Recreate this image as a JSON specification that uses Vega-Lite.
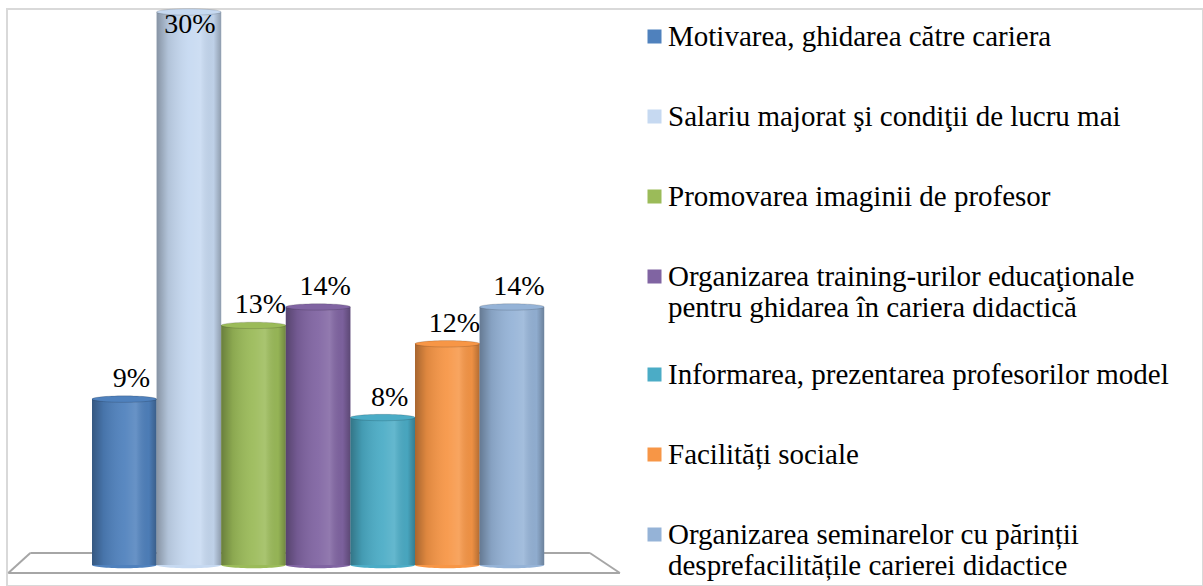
{
  "$schema": "https://vega.github.io/schema/vega-lite/v6.json",
  "width": 1196,
  "height": 577,
  "autosize": {"type": "none"},
  "padding": {"left": 7, "top": 9, "right": 0, "bottom": 0},
  "background": "white",
  "config": {"view": {"stroke": "#d9d9d9", "strokeWidth": 2}},
  "data": {"values": [
    {"cat": "Motivarea, ghidarea către cariera", "pct": 0.09},
    {"cat": "Salariu majorat şi condiţii de lucru mai", "pct": 0.30},
    {"cat": "Promovarea imaginii de profesor", "pct": 0.13},
    {"cat": "Organizarea training-urilor educaţionale pentru ghidarea în cariera didactică", "pct": 0.14},
    {"cat": "Informarea, prezentarea profesorilor model", "pct": 0.08},
    {"cat": "Facilități sociale", "pct": 0.12},
    {"cat": "Organizarea seminarelor cu părinții desprefacilitățile carierei didactice", "pct": 0.14}
  ]},
  "layer": [
    {
      "data": {"values": [{}]},
      "mark": {"type": "rule", "color": "#a6a6a6", "strokeWidth": 2, "xOffset": -94, "x2Offset": 78},
      "encoding": {
        "x": {"datum": "Motivarea, ghidarea către cariera", "type": "nominal", "axis": null,
              "scale": {"domain": ["Motivarea, ghidarea către cariera", "Salariu majorat şi condiţii de lucru mai", "Promovarea imaginii de profesor", "Organizarea training-urilor educaţionale pentru ghidarea în cariera didactică", "Informarea, prezentarea profesorilor model", "Facilități sociale", "Organizarea seminarelor cu părinții desprefacilitățile carierei didactice"], "paddingInner": 0, "paddingOuter": 0, "range": [85, 537.2]}},
        "x2": {"datum": "Organizarea seminarelor cu părinții desprefacilitățile carierei didactice"},
        "y": {"datum": 0.00651, "type": "quantitative", "axis": null, "scale": {"domain": [-0.01139, 0.30163], "nice": false, "zero": false}}
      }
    },
    {
      "data": {"values": [{}]},
      "mark": {"type": "rule", "color": "#a6a6a6", "strokeWidth": 2, "xOffset": -116, "x2Offset": 108},
      "encoding": {
        "x": {"datum": "Motivarea, ghidarea către cariera", "type": "nominal", "axis": null},
        "x2": {"datum": "Organizarea seminarelor cu părinții desprefacilitățile carierei didactice"},
        "y": {"datum": -0.00434, "type": "quantitative", "axis": null}
      }
    },
    {
      "data": {"values": [{}]},
      "mark": {"type": "rule", "color": "#a6a6a6", "strokeWidth": 2, "xOffset": -94, "x2Offset": -116},
      "encoding": {
        "x": {"datum": "Motivarea, ghidarea către cariera", "type": "nominal", "axis": null},
        "x2": {"datum": "Motivarea, ghidarea către cariera"},
        "y": {"datum": 0.00651, "type": "quantitative", "axis": null},
        "y2": {"datum": -0.00434}
      }
    },
    {
      "data": {"values": [{}]},
      "mark": {"type": "rule", "color": "#a6a6a6", "strokeWidth": 2, "xOffset": 78, "x2Offset": 108},
      "encoding": {
        "x": {"datum": "Organizarea seminarelor cu părinții desprefacilitățile carierei didactice", "type": "nominal", "axis": null},
        "x2": {"datum": "Organizarea seminarelor cu părinții desprefacilitățile carierei didactice"},
        "y": {"datum": 0.00651, "type": "quantitative", "axis": null},
        "y2": {"datum": -0.00434}
      }
    },
    {
      "mark": {"type": "point", "filled": true, "opacity": 1, "size": 4173, "shape": "M -1 0 A 1 0.1 0 1 1 1 0 A 1 0.1 0 1 1 -1 0 Z"},
      "encoding": {
        "x": {"field": "cat", "type": "nominal", "axis": null},
        "y": {"datum": 0, "type": "quantitative", "axis": null},
        "fill": {"field": "cat", "type": "nominal", "legend": null,
                 "scale": {"domain": ["Organizarea seminarelor cu părinții desprefacilitățile carierei didactice", "Facilități sociale", "Informarea, prezentarea profesorilor model", "Organizarea training-urilor educaţionale pentru ghidarea în cariera didactică", "Promovarea imaginii de profesor", "Salariu majorat şi condiţii de lucru mai", "Motivarea, ghidarea către cariera"],
                           "range": ["#95B3D7", "#F79646", "#4BACC6", "#8064A2", "#9BBB59", "#C6D9F1", "#4F81BD"]}}
      }
    },
    {
      "mark": {"type": "bar", "strokeWidth": 0},
      "encoding": {
        "x": {"field": "cat", "type": "nominal", "axis": null},
        "y": {"field": "pct", "type": "quantitative", "axis": null},
        "y2": {"datum": 0},
        "color": {"field": "cat", "type": "nominal",
                  "scale": {"domain": ["Motivarea, ghidarea către cariera", "Salariu majorat şi condiţii de lucru mai", "Promovarea imaginii de profesor", "Organizarea training-urilor educaţionale pentru ghidarea în cariera didactică", "Informarea, prezentarea profesorilor model", "Facilități sociale", "Organizarea seminarelor cu părinții desprefacilitățile carierei didactice"],
                            "range": ["#4F81BD", "#C6D9F1", "#9BBB59", "#8064A2", "#4BACC6", "#F79646", "#95B3D7"]},
                  "legend": {
                    "title": null, "orient": "none", "legendX": 633, "legendY": 13, "direction": "vertical", "padding": 0,
                    "symbolType": "M -1 -1 L 1 -1 L 1 1 L -1 1 Z M 0 -4 L 0 4", "symbolSize": 196, "symbolStrokeWidth": 0,
                    "labelFont": "'Liberation Serif', 'Times New Roman', serif", "labelFontSize": 29, "labelColor": "#000000", "labelOffset": -1,
                    "labelLimit": 700, "rowPadding": 23,
                    "labelExpr": "datum.label == 'Organizarea training-urilor educaţionale pentru ghidarea în cariera didactică' ? ['Organizarea training-urilor educaţionale', 'pentru ghidarea în cariera didactică'] : datum.label == 'Organizarea seminarelor cu părinții desprefacilitățile carierei didactice' ? ['Organizarea seminarelor cu părinții', 'desprefacilitățile carierei didactice'] : datum.label"
                  }}
      }
    },
    {
      "mark": {"type": "bar", "strokeWidth": 0,
               "fill": {"gradient": "linear", "x1": 0, "y1": 0, "x2": 1, "y2": 0,
                        "stops": [
                          {"offset": 0, "color": "rgba(0,0,0,0.32)"},
                          {"offset": 0.18, "color": "rgba(0,0,0,0.10)"},
                          {"offset": 0.5, "color": "rgba(255,255,255,0.06)"},
                          {"offset": 0.68, "color": "rgba(255,255,255,0.14)"},
                          {"offset": 0.88, "color": "rgba(0,0,0,0.04)"},
                          {"offset": 1, "color": "rgba(0,0,0,0.28)"}
                        ]}},
      "encoding": {
        "x": {"field": "cat", "type": "nominal", "axis": null},
        "y": {"field": "pct", "type": "quantitative", "axis": null},
        "y2": {"datum": 0}
      }
    },
    {
      "mark": {"type": "point", "filled": true, "opacity": 1, "size": 4173, "stroke": "rgba(0,0,0,0.15)", "strokeWidth": 1, "shape": "M -1 0 A 1 0.1 0 1 1 1 0 A 1 0.1 0 1 1 -1 0 Z"},
      "encoding": {
        "x": {"field": "cat", "type": "nominal", "axis": null},
        "y": {"field": "pct", "type": "quantitative", "axis": null},
        "fill": {"field": "cat", "type": "nominal", "legend": null}
      }
    },
    {
      "transform": [{"filter": "datum.pct < 0.25"}],
      "mark": {"type": "text", "font": "'Liberation Serif', 'Times New Roman', serif", "fontSize": 28, "color": "#000000", "baseline": "alphabetic", "align": "center", "dx": 7, "dy": -12},
      "encoding": {
        "x": {"field": "cat", "type": "nominal", "axis": null},
        "y": {"field": "pct", "type": "quantitative", "axis": null},
        "text": {"field": "pct", "type": "quantitative", "format": ".0%"}
      }
    },
    {
      "transform": [{"filter": "datum.pct >= 0.25"}],
      "mark": {"type": "text", "font": "'Liberation Serif', 'Times New Roman', serif", "fontSize": 28, "color": "#000000", "baseline": "alphabetic", "align": "center", "dx": 1, "dy": 21},
      "encoding": {
        "x": {"field": "cat", "type": "nominal", "axis": null},
        "y": {"field": "pct", "type": "quantitative", "axis": null},
        "text": {"field": "pct", "type": "quantitative", "format": ".0%"}
      }
    }
  ]
}
